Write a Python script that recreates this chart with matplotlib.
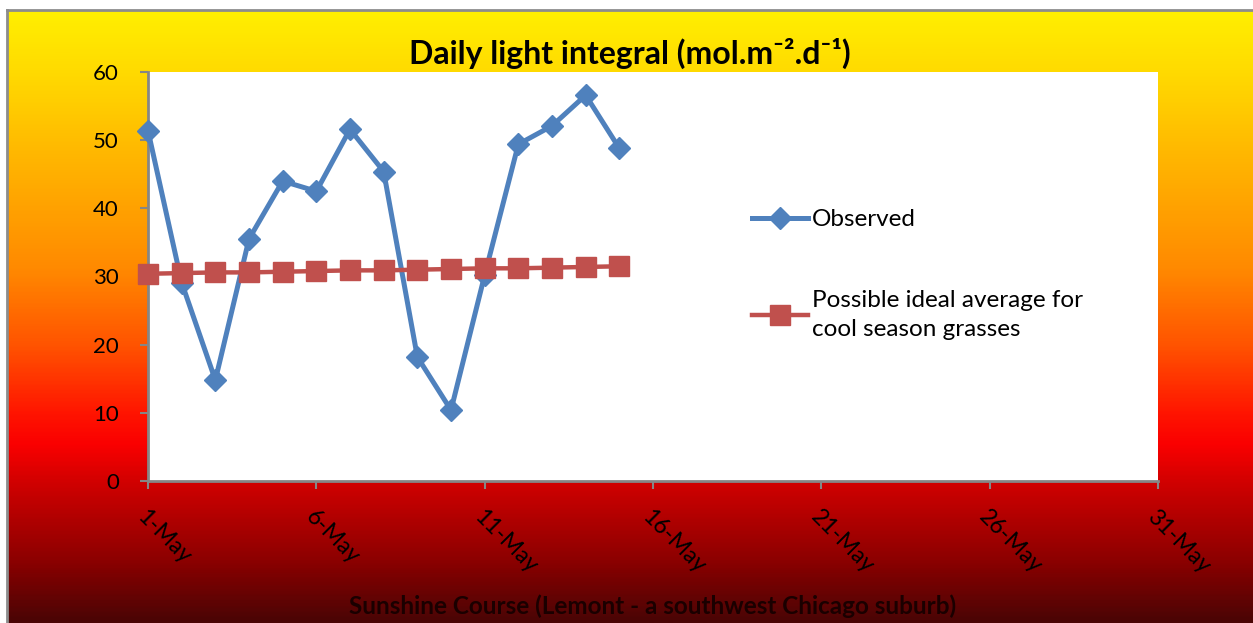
import numpy as np
import pandas as pd
import matplotlib
matplotlib.use("Agg")
import matplotlib.pyplot as plt
import matplotlib.dates as mdates
from matplotlib.colors import LinearSegmentedColormap

plt.rcParams['font.family'] = ['Lato', 'DejaVu Sans']

# data (May, daily)
days = pd.date_range("2013-05-01", "2013-05-15", freq="D")
observed = [51.4, 29.1, 14.8, 35.5, 44.0, 42.5, 51.6, 45.4, 18.2, 10.4,
            30.2, 49.4, 52.1, 56.6, 48.8]
ideal = [30.4, 30.5, 30.6, 30.6, 30.7, 30.8, 30.9, 30.9, 31.0, 31.1,
         31.2, 31.2, 31.3, 31.4, 31.5]
tick_days = pd.date_range("2013-05-01", "2013-05-31", freq="5D")

W, H = 1253, 623
fig = plt.figure(figsize=(W / 100, H / 100), dpi=100, facecolor='white')

# gradient background (yellow at top -> orange -> red -> dark red)
bg = fig.add_axes([7 / W, 0, 1 - 7 / W, (H - 10) / H], zorder=0)
grad_cmap = LinearSegmentedColormap.from_list("grad", [
    (0.00, "#FFEF00"), (0.10, "#FFDA00"), (0.23, "#FFB800"),
    (0.42, "#FF8A00"), (0.55, "#FF5200"), (0.66, "#FF1400"),
    (0.71, "#FA0000"), (0.77, "#D20000"), (0.90, "#8C0000"),
    (1.00, "#4A0505")])
bg.imshow(np.linspace(0, 1, 400).reshape(-1, 1), aspect='auto', cmap=grad_cmap,
          extent=[0, 1, 0, 1])
bg.set_xlim(0, 1)
bg.set_ylim(0, 1)
bg.set_xticks([])
bg.set_yticks([])
for s in ['right', 'bottom']:
    bg.spines[s].set_visible(False)
for s in ['left', 'top']:
    bg.spines[s].set_color('#8C8C8C')
    bg.spines[s].set_linewidth(2)

ax = fig.add_axes([148 / W, (H - 481) / H, (1158 - 148) / W, (481 - 72) / H], zorder=2)
ax.set_facecolor('white')

ax.plot(days, observed, color='#4F81BD', lw=3.6, marker='D', ms=11,
        label='Observed', clip_on=False, zorder=3)
ax.plot(days, ideal, color='#C0504D', lw=3.2, marker='s', ms=15,
        label='Possible ideal average for\ncool season grasses', clip_on=False, zorder=4)

ax.set_xlim(pd.Timestamp("2013-05-01"), pd.Timestamp("2013-05-31"))
ax.set_ylim(0, 60)
ax.set_yticks(range(0, 61, 10))
ax.set_xticks(tick_days)
ax.xaxis.set_major_formatter(mdates.DateFormatter('%-d-%b'))

for s in ['top', 'right']:
    ax.spines[s].set_visible(False)
for s in ['left', 'bottom']:
    ax.spines[s].set_color('#868686')
    ax.spines[s].set_linewidth(2)

ax.tick_params(axis='y', length=6, width=1.5, color='#868686', pad=15,
               labelsize=16, labelcolor='black')
ax.tick_params(axis='x', length=6, width=1.5, color='#868686', pad=12,
               labelsize=16.5, labelcolor='black')
for lab in ax.get_xticklabels():
    lab.set_rotation(-45)
    lab.set_rotation_mode('anchor')
    lab.set_ha('left')
    lab.set_va('top')

leg = ax.legend(loc='upper left', bbox_to_anchor=(752 / W, (H - 209) / H),
                bbox_transform=fig.transFigure, frameon=False, fontsize=17.5,
                handlelength=2.3, handletextpad=0.15, labelspacing=2.45,
                borderpad=0, borderaxespad=0)
for t in leg.get_texts():
    t.set_linespacing(1.5)

fig.text(630 / W, (H - 53) / H,
         'Daily light integral (mol.m\u207b\u00b2.d\u207b\u00b9)',
         ha='center', va='center', fontsize=23, fontweight='bold')
fig.text(653 / W, (H - 606) / H,
         'Sunshine Course (Lemont - a southwest Chicago suburb)',
         ha='center', va='center', fontsize=17.5, fontweight='bold', color='#1a0000')

fig.savefig('out.png', dpi=100, facecolor='white')
